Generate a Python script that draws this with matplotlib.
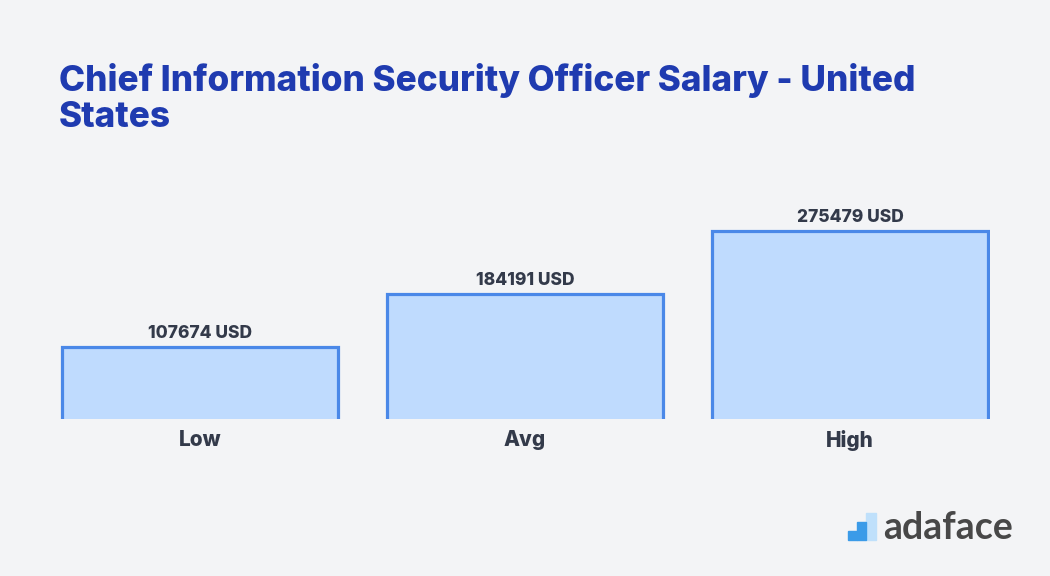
import matplotlib.pyplot as plt
from matplotlib.patches import Rectangle

# data
categories = ['Low', 'Avg', 'High']
salaries = [107674, 184191, 275479]
value_labels = [f'{v} USD' for v in salaries]
title = 'Chief Information Security Officer Salary - United\nStates'

BG = '#f3f4f6'
FILL = '#bfdbfe'
EDGE = '#4a88e8'
TXT = '#333a4a'
TITLE_C = '#1f3bb0'

W, H = 1050, 576
fig = plt.figure(figsize=(W / 100, H / 100), dpi=100, facecolor=BG)

# axes placed in pixel terms: bars from x=61..989, baseline at y=419
ax_left, ax_right = 60, 990
ax_top, ax_bottom = 150, 419
ax = fig.add_axes([ax_left / W, 1 - ax_bottom / H,
                   (ax_right - ax_left) / W, (ax_bottom - ax_top) / H])
ax.set_facecolor(BG)

x = range(len(categories))
bars = ax.bar(x, salaries, width=0.85, color=FILL, edgecolor=EDGE, linewidth=2.3)
ax.set_xlim(-0.43, 2.43)
# start a hair above zero so the bottom outline is clipped (open bars)
ax.set_ylim(3000, 393000)

for b, lab in zip(bars, value_labels):
    ax.annotate(lab, (b.get_x() + b.get_width() / 2, b.get_height()),
                xytext=(0, 3.5), textcoords='offset points', ha='center', va='bottom',
                fontsize=12.5, fontweight='heavy', color=TXT, family='Inter')

ax.set_xticks(list(x))
ax.set_xticklabels(categories, fontsize=15, fontweight='heavy', color=TXT, family='Inter')
ax.tick_params(axis='x', length=0, pad=8)
ax.set_yticks([])
for s in ax.spines.values():
    s.set_visible(False)

fig.text(59 / W, 1 - 63 / H, title, ha='left', va='top', fontsize=25.3,
         fontweight='heavy', color=TITLE_C, family='Inter', linespacing=1.12)

# logo
fig.patches.append(Rectangle((866 / W, 1 - 540 / H), 10 / W, 27 / H,
                             transform=fig.transFigure, color='#bfe0fb'))
fig.patches.append(Rectangle((857 / W, 1 - 540 / H), 9 / W, 18 / H,
                             transform=fig.transFigure, color='#3b9be8'))
fig.patches.append(Rectangle((848 / W, 1 - 540 / H), 9 / W, 9 / H,
                             transform=fig.transFigure, color='#3b9be8'))
fig.text(883 / W, 1 - 528 / H, 'adaface', ha='left', va='center', fontsize=27,
         fontweight='bold', color='#484848', family='Lato')

fig.savefig('out.png', dpi=100, facecolor=BG)
